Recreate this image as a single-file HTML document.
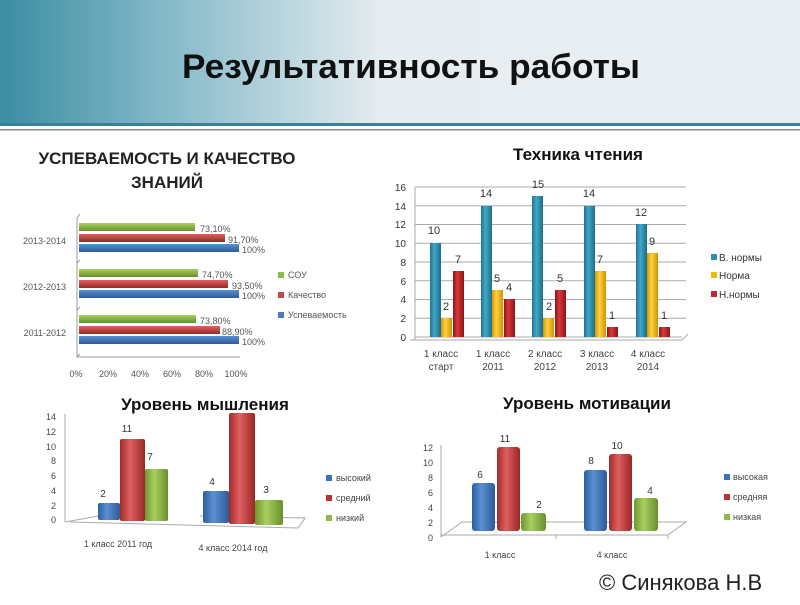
<!DOCTYPE html>
<html><head><meta charset="utf-8"><style>
body{margin:0;width:800px;height:600px;overflow:hidden;background:#fff;font-family:"Liberation Sans","DejaVu Sans",sans-serif}
svg text{font-family:"Liberation Sans","DejaVu Sans",sans-serif}
</style></head><body>
<svg width="800" height="600" viewBox="0 0 800 600" xmlns="http://www.w3.org/2000/svg">
<defs>
<linearGradient id="hdr" x1="0" x2="1" y1="0" y2="0">
<stop offset="0" stop-color="#3b8da2"/><stop offset="0.2" stop-color="#82b8c8"/><stop offset="0.48" stop-color="#e6edf1"/><stop offset="1" stop-color="#e9eef2"/></linearGradient>
<linearGradient id="bl" x1="0" x2="1"><stop offset="0" stop-color="#2c5f9e"/><stop offset="0.4" stop-color="#5b8fd4"/><stop offset="1" stop-color="#2d5b96"/></linearGradient>
<linearGradient id="rd" x1="0" x2="1"><stop offset="0" stop-color="#a02a28"/><stop offset="0.4" stop-color="#e06060"/><stop offset="1" stop-color="#982826"/></linearGradient>
<linearGradient id="gr" x1="0" x2="1"><stop offset="0" stop-color="#6f9530"/><stop offset="0.4" stop-color="#a8d060"/><stop offset="1" stop-color="#6a8e2c"/></linearGradient>
<linearGradient id="tl" x1="0" x2="1"><stop offset="0" stop-color="#1f7390"/><stop offset="0.4" stop-color="#42a8c8"/><stop offset="1" stop-color="#1d6d88"/></linearGradient>
<linearGradient id="yl" x1="0" x2="1"><stop offset="0" stop-color="#d89800"/><stop offset="0.4" stop-color="#ffd040"/><stop offset="1" stop-color="#d29300"/></linearGradient>
<linearGradient id="dr" x1="0" x2="1"><stop offset="0" stop-color="#8e1418"/><stop offset="0.4" stop-color="#d8383c"/><stop offset="1" stop-color="#8a1418"/></linearGradient>
<linearGradient id="hb" x1="0" x2="0" y1="0" y2="1"><stop offset="0" stop-color="#5b8fd4"/><stop offset="1" stop-color="#2d5b96"/></linearGradient>
<linearGradient id="hr" x1="0" x2="0" y1="0" y2="1"><stop offset="0" stop-color="#e06060"/><stop offset="1" stop-color="#982826"/></linearGradient>
<linearGradient id="hg" x1="0" x2="0" y1="0" y2="1"><stop offset="0" stop-color="#a8d060"/><stop offset="1" stop-color="#6a8e2c"/></linearGradient>
</defs>
<!-- header -->
<rect x="0" y="0" width="800" height="124" fill="url(#hdr)"/>
<rect x="0" y="123" width="800" height="3" fill="#3a8096"/>
<rect x="0" y="129" width="800" height="1.5" fill="#888"/>
<text x="411" y="78" font-size="34" font-weight="bold" text-anchor="middle" fill="#111" textLength="458" lengthAdjust="spacingAndGlyphs">Результативность работы</text>

<!-- chart1 -->
<g font-size="17" font-weight="bold" fill="#222" text-anchor="middle">
<text x="167" y="164">УСПЕВАЕМОСТЬ И КАЧЕСТВО</text><text x="167" y="188">ЗНАНИЙ</text></g>
<g stroke="#999" fill="none"><path d="M77 218 L77 357 L240 357"/><path d="M77 218l3-4M77 263l3-3M77 310l3-3M77 357l3-3"/></g>
<g fill="url(#hg)"><rect x="79" y="223" width="116" height="8"/><rect x="79" y="269" width="119" height="8"/><rect x="79" y="315" width="117" height="8"/></g>
<g fill="url(#hr)"><rect x="79" y="234" width="146" height="8"/><rect x="79" y="280" width="149" height="8"/><rect x="79" y="326" width="141" height="8"/></g>
<g fill="url(#hb)"><rect x="79" y="244" width="160" height="8"/><rect x="79" y="290" width="160" height="8"/><rect x="79" y="336" width="160" height="8"/></g>
<g font-size="9" fill="#555">
<text x="200" y="232">73,10%</text><text x="228" y="243">91,70%</text><text x="242" y="253">100%</text>
<text x="202" y="278">74,70%</text><text x="232" y="289">93,50%</text><text x="242" y="299">100%</text>
<text x="200" y="324">73,80%</text><text x="222" y="335">88,90%</text><text x="242" y="345">100%</text>
<g text-anchor="end"><text x="66" y="244">2013-2014</text><text x="66" y="290">2012-2013</text><text x="66" y="336">2011-2012</text></g>
<g text-anchor="middle"><text x="76" y="377">0%</text><text x="108" y="377">20%</text><text x="140" y="377">40%</text><text x="172" y="377">60%</text><text x="204" y="377">80%</text><text x="236" y="377">100%</text></g>
<rect x="278" y="272" width="6" height="6" fill="#8bbb4a"/><text x="288" y="278">СОУ</text>
<rect x="278" y="292" width="6" height="6" fill="#c04a48"/><text x="288" y="298">Качество</text>
<rect x="278" y="312" width="6" height="6" fill="#4a7cc0"/><text x="288" y="318">Успеваемость</text>
</g>

<!-- chart2 -->
<text x="578" y="160" font-size="17" font-weight="bold" text-anchor="middle" fill="#111">Техника чтения</text>
<g stroke="#aaa" stroke-width="1" fill="none">
<path d="M415 337H682M415 318.25H686M415 299.5H686M415 280.75H686M415 262H686M415 243.25H686M415 224.5H686M415 205.75H686M415 187H686"/>
<path d="M415 187V340M410 340H682l6-6"/></g>
<g font-size="10" fill="#333" text-anchor="end">
<text x="406" y="341">0</text><text x="406" y="322">2</text><text x="406" y="303">4</text><text x="406" y="285">6</text><text x="406" y="266">8</text><text x="406" y="247">10</text><text x="406" y="228">12</text><text x="406" y="210">14</text><text x="406" y="191">16</text></g>
<g fill="url(#tl)"><rect x="430" y="243" width="11" height="94"/><rect x="481" y="206" width="11" height="131"/><rect x="532" y="196" width="11" height="141"/><rect x="584" y="206" width="11" height="131"/><rect x="636" y="224" width="11" height="113"/></g>
<g fill="url(#yl)"><rect x="441" y="318" width="11" height="19"/><rect x="492" y="290" width="11" height="47"/><rect x="543" y="318" width="11" height="19"/><rect x="595" y="271" width="11" height="66"/><rect x="647" y="253" width="11" height="84"/></g>
<g fill="url(#dr)"><rect x="453" y="271" width="11" height="66"/><rect x="504" y="299" width="11" height="38"/><rect x="555" y="290" width="11" height="47"/><rect x="607" y="327" width="11" height="10"/><rect x="659" y="327" width="11" height="10"/></g>
<g font-size="11" fill="#333" text-anchor="middle">
<text x="434" y="234">10</text><text x="446" y="310">2</text><text x="458" y="263">7</text>
<text x="486" y="197">14</text><text x="497" y="282">5</text><text x="509" y="291">4</text>
<text x="538" y="188">15</text><text x="549" y="310">2</text><text x="560" y="282">5</text>
<text x="589" y="197">14</text><text x="600" y="263">7</text><text x="612" y="319">1</text>
<text x="641" y="216">12</text><text x="652" y="245">9</text><text x="664" y="319">1</text></g>
<g font-size="10" fill="#444" text-anchor="middle">
<text x="441" y="357">1 класс</text><text x="441" y="370">старт</text>
<text x="493" y="357">1 класс</text><text x="493" y="370">2011</text>
<text x="545" y="357">2 класс</text><text x="545" y="370">2012</text>
<text x="597" y="357">3 класс</text><text x="597" y="370">2013</text>
<text x="648" y="357">4 класс</text><text x="648" y="370">2014</text></g>
<g font-size="10" fill="#333">
<rect x="711" y="254" width="6" height="6" fill="#2e8fb0"/><text x="719" y="261">В. нормы</text>
<rect x="711" y="272" width="6" height="6" fill="#f5b800"/><text x="719" y="279">Норма</text>
<rect x="711" y="291" width="6" height="6" fill="#c0282e"/><text x="719" y="298">Н.нормы</text></g>

<!-- chart3 -->
<text x="205" y="410" font-size="17" font-weight="bold" text-anchor="middle" fill="#111">Уровень мышления</text>
<g stroke="#aaa" fill="none"><path d="M65 414V522"/><path d="M65 522L110 514M200 516L305 518L298 528L70 522"/></g>
<g font-size="9" fill="#444" text-anchor="end">
<text x="56" y="523">0</text><text x="56" y="509">2</text><text x="56" y="494">4</text><text x="56" y="479">6</text><text x="56" y="464">8</text><text x="56" y="450">10</text><text x="56" y="435">12</text><text x="56" y="420">14</text></g>
<rect x="98" y="503" width="22" height="17" rx="2" fill="url(#bl)"/>
<rect x="120" y="439" width="25" height="82" rx="2" fill="url(#rd)"/>
<rect x="145" y="469" width="23" height="52" rx="2" fill="url(#gr)"/>
<rect x="203" y="491" width="26" height="32" rx="2" fill="url(#bl)"/>
<rect x="229" y="413" width="26" height="111" rx="2" fill="url(#rd)"/>
<rect x="255" y="500" width="28" height="25" rx="2" fill="url(#gr)"/>
<g font-size="10" fill="#333" text-anchor="middle">
<text x="103" y="497">2</text><text x="127" y="432">11</text><text x="150" y="460">7</text>
<text x="212" y="485">4</text><text x="266" y="493">3</text></g>
<g font-size="9" fill="#444" text-anchor="middle"><text x="118" y="547">1 класс 2011 год</text><text x="233" y="551">4 класс 2014 год</text></g>
<g font-size="9" fill="#444">
<rect x="326" y="475" width="6" height="6" fill="#3b70c0"/><text x="336" y="481">высокий</text>
<rect x="326" y="495" width="6" height="6" fill="#c0302e"/><text x="336" y="501">средний</text>
<rect x="326" y="515" width="6" height="6" fill="#8cbb44"/><text x="336" y="521">низкий</text></g>

<!-- chart4 -->
<text x="587" y="409" font-size="17" font-weight="bold" text-anchor="middle" fill="#111">Уровень мотивации</text>
<g stroke="#aaa" fill="none"><path d="M441 445V537"/><path d="M441 537L462 522H686L668 535H441M556 535v4M668 535v4"/></g>
<g font-size="9" fill="#444" text-anchor="end">
<text x="433" y="541">0</text><text x="433" y="526">2</text><text x="433" y="511">4</text><text x="433" y="496">6</text><text x="433" y="481">8</text><text x="433" y="466">10</text><text x="433" y="451">12</text></g>
<rect x="472" y="483" width="23" height="48" rx="3" fill="url(#bl)"/>
<rect x="497" y="447" width="23" height="84" rx="3" fill="url(#rd)"/>
<rect x="521" y="513" width="25" height="18" rx="3" fill="url(#gr)"/>
<rect x="584" y="470" width="23" height="61" rx="3" fill="url(#bl)"/>
<rect x="609" y="454" width="23" height="77" rx="3" fill="url(#rd)"/>
<rect x="634" y="498" width="24" height="33" rx="3" fill="url(#gr)"/>
<g font-size="10" fill="#333" text-anchor="middle">
<text x="480" y="478">6</text><text x="505" y="442">11</text><text x="539" y="508">2</text>
<text x="591" y="464">8</text><text x="617" y="449">10</text><text x="650" y="494">4</text></g>
<g font-size="9" fill="#444" text-anchor="middle"><text x="500" y="558">1 класс</text><text x="612" y="558">4 класс</text></g>
<g font-size="9" fill="#444">
<rect x="724" y="474" width="6" height="6" fill="#3b70c0"/><text x="733" y="480">высокая</text>
<rect x="724" y="494" width="6" height="6" fill="#c0302e"/><text x="733" y="500">средняя</text>
<rect x="724" y="514" width="6" height="6" fill="#8cbb44"/><text x="733" y="520">низкая</text></g>

<text x="599" y="590" font-size="22" fill="#222">© Синякова Н.В</text>
</svg>
</body></html>
